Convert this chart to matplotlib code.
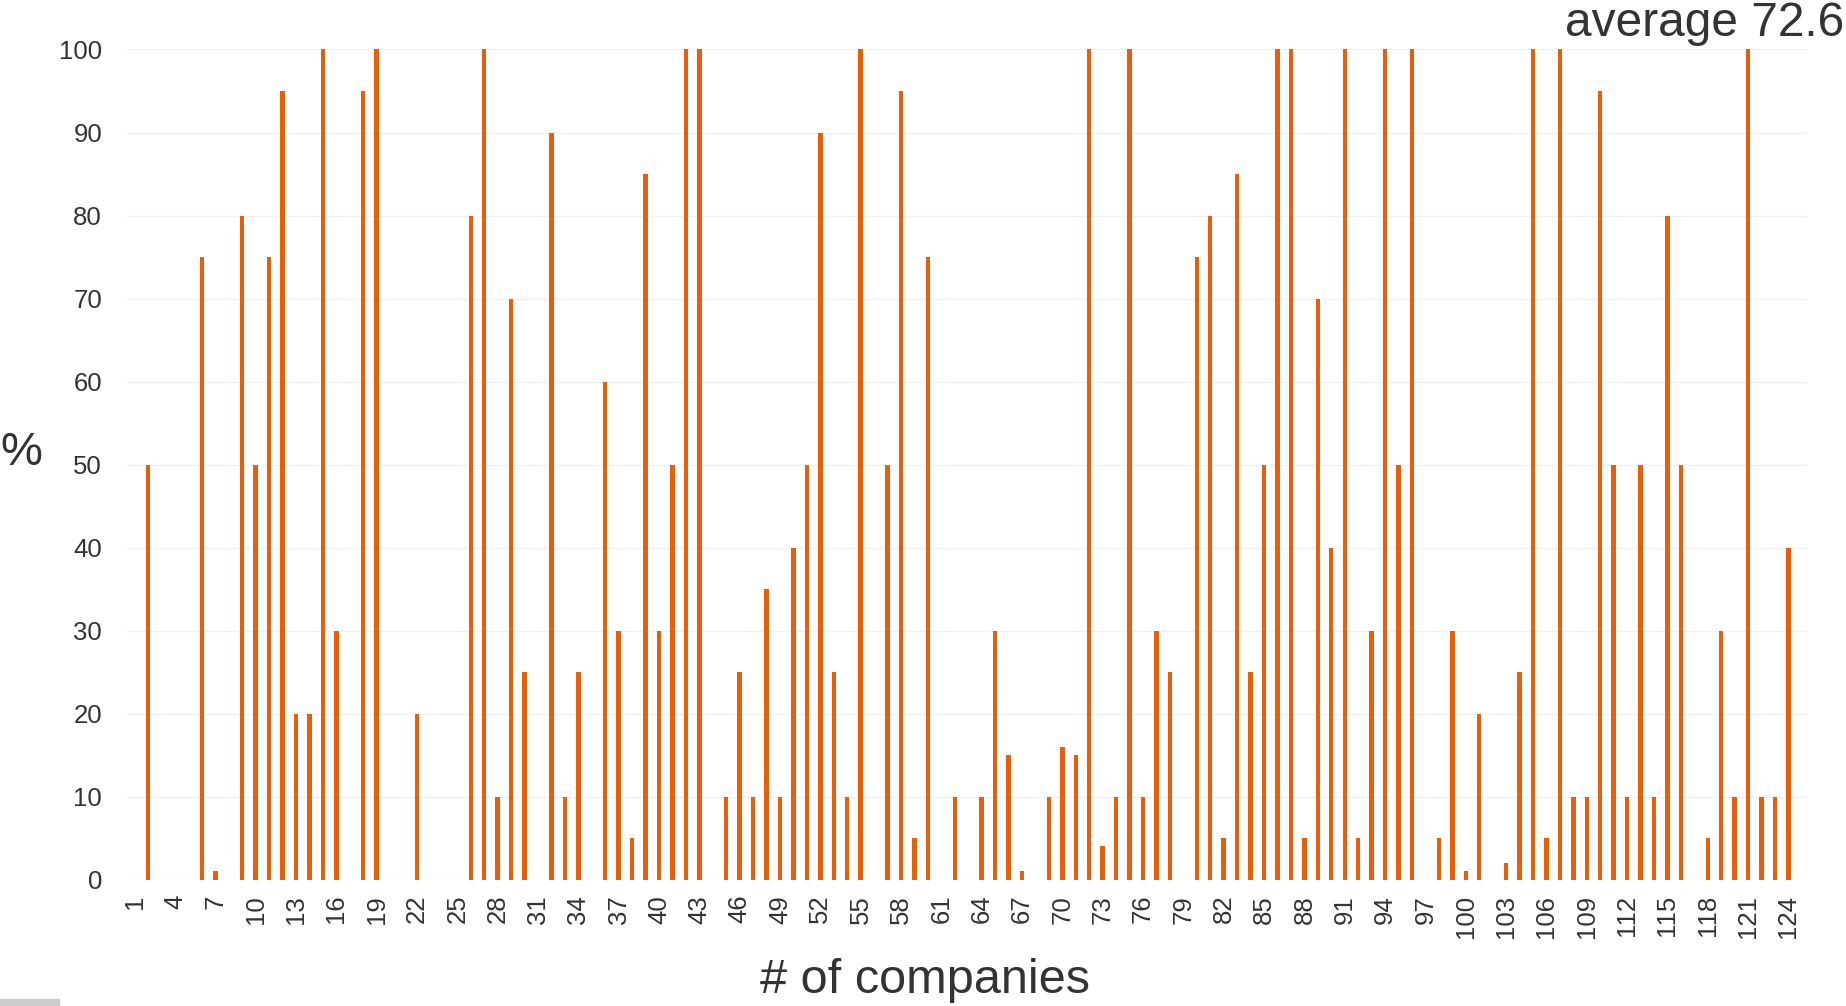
import numpy as np
import matplotlib
matplotlib.use('Agg')
import matplotlib.pyplot as plt
from matplotlib.patches import Rectangle

plt.rcParams['font.family'] = ['Liberation Sans', 'DejaVu Sans']

# % per company, companies 1..124 (0 = no bar)
companies = list(range(1, 125))
values = [
    0, 50, 0, 0, 0, 75, 1, 0, 80, 50,        # 1-10
    75, 95, 20, 20, 100, 30, 0, 95, 100, 0,  # 11-20
    0, 20, 0, 0, 0, 80, 100, 10, 70, 25,     # 21-30
    0, 90, 10, 25, 0, 60, 30, 5, 85, 30,     # 31-40
    50, 100, 100, 0, 10, 25, 10, 35, 10, 40,  # 41-50
    50, 90, 25, 10, 100, 0, 50, 95, 5, 75,   # 51-60
    0, 10, 0, 10, 30, 15, 1, 0, 10, 16,      # 61-70
    15, 100, 4, 10, 100, 10, 30, 25, 0, 75,  # 71-80
    80, 5, 85, 25, 50, 100, 100, 5, 70, 40,  # 81-90
    100, 5, 30, 100, 50, 100, 0, 5, 30, 1,   # 91-100
    20, 0, 2, 25, 100, 5, 100, 10, 10, 95,   # 101-110
    50, 10, 50, 10, 80, 50, 0, 5, 30, 10,    # 111-120
    100, 10, 10, 40,                         # 121-124
]
tick_labels = companies[::3]
title_text = 'average 72.6'

fig = plt.figure(figsize=(18.46, 10.06), dpi=100)
ax = fig.add_axes([0.0688, 0.1257, 0.9102, 0.8251])

ax.bar(companies, values, width=0.33, color='#e95e08', zorder=3)

ax.set_xlim(0.43, 125.4)
ax.set_ylim(0, 100)
ax.set_yticks(np.arange(0, 101, 10))
ax.set_xticks(tick_labels)
ax.set_xticklabels([str(t) for t in tick_labels], rotation=90)
ax.tick_params(axis='both', length=0, labelsize=18.5, colors='#333333')
ax.tick_params(axis='y', pad=18)
ax.tick_params(axis='x', pad=11)
ax.grid(axis='y', color='#f0f0f0', linewidth=1, zorder=0)
for s in ax.spines.values():
    s.set_visible(False)

fig.text(0.0, 0.55, '%', fontsize=34, color='#333333', ha='left', va='center')
fig.text(0.501, 0.013, '# of companies', fontsize=35, color='#333333', ha='center', va='baseline')
fig.text(0.999, 0.999, title_text, fontsize=34.5, color='#333333', ha='right', va='top')

fig.patches.append(Rectangle((0, 0), 0.032, 0.007, transform=fig.transFigure,
                             color='#cccccc', figure=fig))

fig.savefig('out.png', dpi=100)
